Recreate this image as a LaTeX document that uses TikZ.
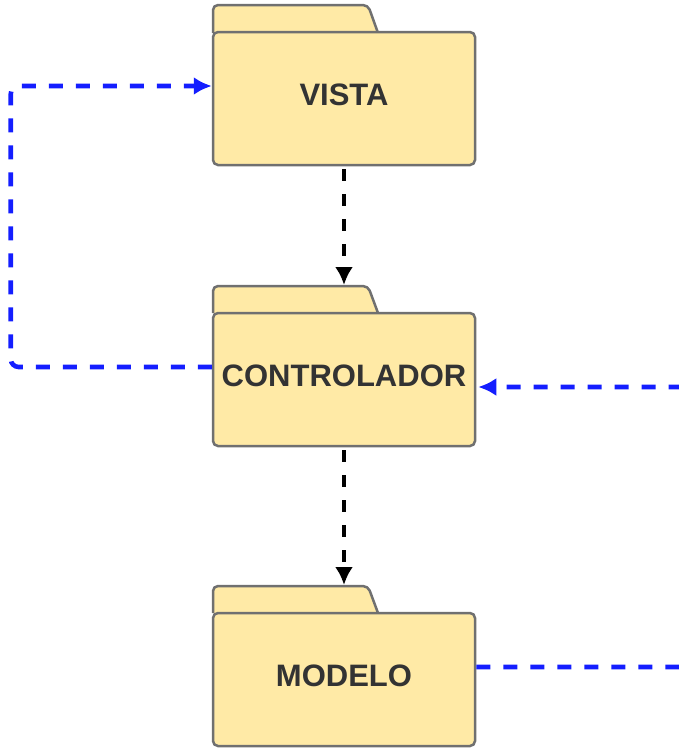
\documentclass[tikz,border=0pt]{standalone}
\usepackage{fontspec}
\setmainfont{Liberation Sans}
\usetikzlibrary{arrows.meta}
\definecolor{foldfill}{RGB}{255,234,166}
\definecolor{folddraw}{RGB}{112,112,112}
\definecolor{txtgray}{RGB}{51,51,51}
\definecolor{linkblue}{RGB}{20,30,255}
\tikzset{
  body/.style={draw=folddraw, fill=foldfill, line width=2.5pt, rounded corners=5pt,
    minimum width=262pt, minimum height=133pt, inner sep=0pt,
    text=txtgray, font=\fontsize{31}{31}\selectfont\bfseries, text depth=8pt},
  tabshape/.style={draw=folddraw, fill=foldfill, line width=2.5pt, rounded corners=5pt},
  bluelink/.style={draw=linkblue, line width=4.6pt, dash pattern=on 14pt off 13pt, rounded corners=8pt},
  blacklink/.style={draw=black, line width=4.6pt, dash pattern=on 12pt off 13pt},
  tip/.style={-{Latex[length=18pt,width=18pt]}}
}
\begin{document}
\begin{tikzpicture}[x=1pt,y=-1pt]
\useasboundingbox (0,0) rectangle (679,748);
\clip (0,0) rectangle (679,748);
\draw[tabshape] (213,33) -- (213,5) -- (368,5) -- (378,33);
\node[body] (v) at (344,98.5) {VISTA};
\draw[tabshape] (213,313) -- (213,286) -- (368,286) -- (378,313);
\node[body] (c) at (344,379.5) {CONTROLADOR};
\coordinate (ctab) at (344,286);
\draw[tabshape] (213,613) -- (213,586) -- (368,586) -- (378,613);
\node[body] (m) at (344,679.5) {MODELO};
\coordinate (mtab) at (344,586);
\coordinate (offr) at (740,667);
\draw[bluelink, tip] ([yshift=12.5pt]c.west) -- ++(-201,0) |- ([yshift=12.5pt]v.west);
\draw[bluelink, tip] ([yshift=12.5pt]m.east) -- (offr) |- ([yshift=-7.5pt,xshift=2pt]c.east);
\draw[blacklink, tip] ([yshift=-3pt]v.south) -- ([yshift=1pt]ctab);
\draw[blacklink, tip] ([yshift=-3pt]c.south) -- ([yshift=1pt]mtab);
\end{tikzpicture}
\end{document}
